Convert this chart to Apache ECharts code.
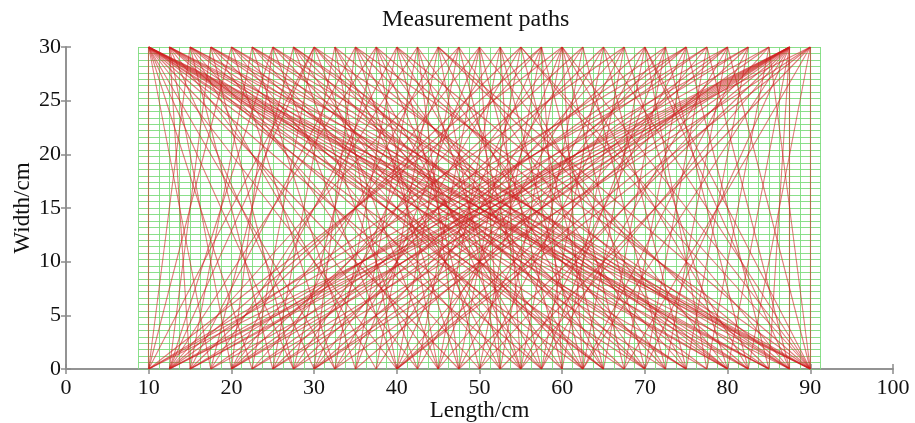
<!DOCTYPE html>
<html><head><meta charset="utf-8">
<script src="https://cdn.jsdelivr.net/npm/echarts@6/dist/echarts.min.js"></script>
<style>html,body{margin:0;background:#fff}#c{width:915px;height:423px}</style></head>
<body><div id="c"></div>
<script>
// Tick labels
const xTicks = [0, 10, 20, 30, 40, 50, 60, 70, 80, 90, 100];
const yTicks = [0, 5, 10, 15, 20, 25, 30];
// Green mesh lines (cm)
const gridXs = [8.75,10,11.25,12.5,13.75,15,16.25,17.5,18.75,20,21.25,22.5,23.75,25,26.25,27.5,28.75,30,31.25,32.5,33.75,35,36.25,37.5,38.75,40,41.25,42.5,43.75,45,46.25,47.5,48.75,50,51.25,52.5,53.75,55,56.25,57.5,58.75,60,61.25,62.5,63.75,65,66.25,67.5,68.75,70,71.25,72.5,73.75,75,76.25,77.5,78.75,80,81.25,82.5,83.75,85,86.25,87.5,88.75,90,91.25];
const gridYs = [0,0.6,1.2,1.8,2.4,3,3.6,4.2,4.8,5.4,6,6.6,7.2,7.8,8.4,9,9.6,10.2,10.8,11.4,12,12.6,13.2,13.8,14.4,15,15.6,16.2,16.8,17.4,18,18.6,19.2,19.8,20.4,21,21.6,22.2,22.8,23.4,24,24.6,25.2,25.8,26.4,27,27.6,28.2,28.8,29.4,30];
// Sensor edges
const topY = 30;
const bottomY = 0;
// Top sensor positions and the bottom sensors each one is paired with
const topSensors = [10,12.5,15,17.5,20,22.5,25,27.5,30,32.5,35,37.5,40,42.5,45,47.5,50,52.5,55,57.5,60,62.5,65,67.5,70,72.5,75,77.5,80,82.5,85,87.5,90];
const bottomTargets = [
  [10,17.5,22.5,27.5,32.5,40,47.5,55,62.5,67.5,70,75,77.5,80,82.5,85,87.5,90],
  [15,20,30,42.5,57.5,65,72.5,80,85,90],
  [10,25,37.5,50,65,75,85,90],
  [12.5,27.5,45,60,75,82.5,90],
  [10,32.5,52.5,65,80,87.5],
  [15,35,57.5,70,82.5,90],
  [12.5,20,40,62.5,77.5,87.5],
  [17.5,42.5,55,67.5,80,85],
  [10,12.5,22.5,45,62.5,70,87.5],
  [25,40,52.5,60,80],
  [15,30,47.5,57.5,72.5,90],
  [12.5,27.5,45,55,65,82.5],
  [20,32.5,50,62.5,75,87.5],
  [17.5,35,47.5,55,70],
  [25,37.5,52.5,65,85,90],
  [12.5,30,40,57.5,72.5],
  [20,35,42.5,52.5,60,80],
  [27.5,45,55,62.5,75],
  [15,32.5,47.5,65,87.5,90],
  [12.5,22.5,40,50,60,67.5],
  [10,30,45,52.5,62.5,70,82.5,90],
  [20,37.5,55,72.5],
  [25,42.5,57.5,75,90],
  [12.5,32.5,47.5,60,80],
  [27.5,50,62.5,77.5,87.5,90],
  [17.5,40,57.5,65,82.5],
  [10,20,30,55,67.5,85],
  [15,22.5,45,70,87.5],
  [10,25,35,57.5,72.5,90],
  [12.5,20,40,62.5,75],
  [15,30,50,77.5,90],
  [10,12.5,15,17.5,20,22.5,25,27.5,32.5,40,47.5,55,62.5,70,80,85,87.5],
  [12.5,30,40,52.5,67.5,82.5,90]
];

const meshData = [];
gridXs.forEach(x => meshData.push({coords: [[x, gridYs[0]], [x, gridYs[gridYs.length - 1]]]}));
gridYs.forEach(y => meshData.push({coords: [[gridXs[0], y], [gridXs[gridXs.length - 1], y]]}));

const pathData = [];
topSensors.forEach((t, i) => {
  bottomTargets[i].forEach(b => pathData.push({coords: [[t, topY], [b, bottomY]]}));
});

const serif = 'Liberation Serif, Times New Roman, serif';
const frame = {show: true, lineStyle: {color: '#8c8c8c', width: 1.5}};
const tick = {show: true, inside: true, length: 5, lineStyle: {color: '#8c8c8c', width: 1.5}};

const chart = echarts.init(document.getElementById('c'), null, {renderer: 'canvas'});
chart.setOption({
  animation: false,
  backgroundColor: '#fff',
  title: {
    text: 'Measurement paths', left: 377, top: 3,
    textStyle: {fontFamily: serif, fontSize: 24, fontWeight: 'normal', color: '#111'}
  },
  grid: {left: 66, right: 22, top: 47, bottom: 54, containLabel: false, outerBoundsMode: 'none'},
  xAxis: [
    {type: 'value', min: xTicks[0], max: xTicks[xTicks.length - 1], interval: 10, position: 'bottom',
     axisLine: frame, axisTick: tick, splitLine: {show: false},
     axisLabel: {color: '#111', fontFamily: serif, fontSize: 22, margin: 8},
     name: 'Length/cm', nameLocation: 'middle', nameGap: 30, nameMoveOverlap: false,
     nameTextStyle: {color: '#111', fontFamily: serif, fontSize: 23}},
    {type: 'value', min: xTicks[0], max: xTicks[xTicks.length - 1], interval: 10, position: 'top',
     axisLine: frame, axisTick: tick, splitLine: {show: false}, axisLabel: {show: false}}
  ],
  yAxis: [
    {type: 'value', min: yTicks[0], max: yTicks[yTicks.length - 1], interval: 5, position: 'left',
     axisLine: frame, axisTick: tick, splitLine: {show: false},
     axisLabel: {color: '#111', fontFamily: serif, fontSize: 22, margin: 5},
     name: 'Width/cm', nameLocation: 'middle', nameGap: 32, nameRotate: 90, nameMoveOverlap: false,
     nameTextStyle: {color: '#111', fontFamily: serif, fontSize: 23}},
    {type: 'value', min: yTicks[0], max: yTicks[yTicks.length - 1], interval: 5, position: 'right',
     axisLine: frame, axisTick: tick, splitLine: {show: false}, axisLabel: {show: false}}
  ],
  series: [
    {type: 'lines', coordinateSystem: 'cartesian2d', xAxisIndex: 0, yAxisIndex: 0, silent: true, z: 1,
     lineStyle: {color: '#7ddc7d', width: 1, opacity: 0.9}, data: meshData},
    {type: 'lines', coordinateSystem: 'cartesian2d', xAxisIndex: 0, yAxisIndex: 0, silent: true, z: 2,
     lineStyle: {color: '#cf1f1f', width: 1.1, opacity: 0.58}, data: pathData}
  ]
});
</script></body></html>
